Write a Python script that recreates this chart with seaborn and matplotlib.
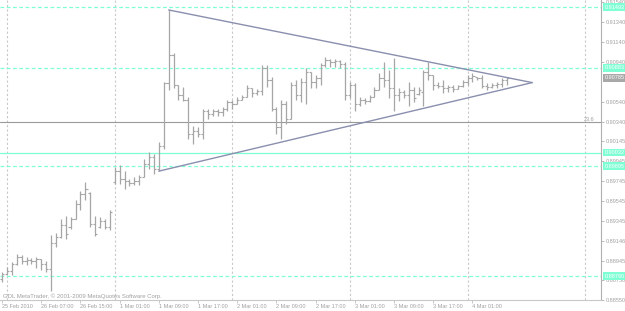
import numpy as np
import pandas as pd
import matplotlib
matplotlib.use("Agg")
import matplotlib.pyplot as plt
import seaborn as sns
from matplotlib.transforms import blended_transform_factory

sns.set_style("white")
plt.rcParams['font.family'] = ['Liberation Sans', 'DejaVu Sans']

# ---------------- data (H1 bars) ----------------
opens = [0.88765, 0.88815, 0.88845, 0.88915, 0.88985, 0.88945, 0.88955, 0.88945, 0.88965, 0.88915,
         0.88865, 0.89125, 0.89185, 0.89305, 0.89285, 0.89365, 0.89515, 0.89615, 0.89625, 0.89315,
         0.89285, 0.89345, 0.89285, 0.89735, 0.89845, 0.89765, 0.89745, 0.89725, 0.89745, 0.89785,
         0.89915, 0.89985, 0.89865, 0.90095, 0.90735, 0.91015, 0.90715, 0.90615, 0.90565, 0.90215,
         0.90245, 0.90215, 0.90445, 0.90415, 0.90445, 0.90435, 0.90465, 0.90535, 0.90515, 0.90565,
         0.90595, 0.90685, 0.90635, 0.90655, 0.90885, 0.90765, 0.90465, 0.90285, 0.90515, 0.90365,
         0.90715, 0.90615, 0.90745, 0.90845, 0.90745, 0.90785, 0.90915, 0.90965, 0.90945, 0.90955,
         0.90925, 0.90615, 0.90715, 0.90515, 0.90565, 0.90545, 0.90595, 0.90665, 0.90785, 0.90765,
         0.90685, 0.90615, 0.90645, 0.90615, 0.90665, 0.90625, 0.90645, 0.90845, 0.90815, 0.90715,
         0.90705, 0.90685, 0.90695, 0.90675, 0.90705, 0.90745, 0.90785, 0.90795, 0.90785, 0.90705,
         0.90695, 0.90715, 0.90725, 0.90765]
highs = [0.88835, 0.88885, 0.88935, 0.89015, 0.89005, 0.88985, 0.88975, 0.88985, 0.88965, 0.88945,
         0.89205, 0.89225, 0.89365, 0.89395, 0.89385, 0.89555, 0.89645, 0.89735, 0.89635, 0.89395,
         0.89385, 0.89365, 0.89455, 0.89885, 0.89905, 0.89845, 0.89765, 0.89785, 0.89805, 0.89965,
         0.90035, 0.90015, 0.90135, 0.90745, 0.91465, 0.91035, 0.90715, 0.90695, 0.90595, 0.90295,
         0.90285, 0.90465, 0.90465, 0.90465, 0.90465, 0.90485, 0.90565, 0.90565, 0.90595, 0.90615,
         0.90715, 0.90685, 0.90675, 0.90915, 0.90915, 0.90795, 0.90485, 0.90565, 0.90545, 0.90745,
         0.90765, 0.90785, 0.90885, 0.90845, 0.90815, 0.90935, 0.90995, 0.90975, 0.90975, 0.90965,
         0.90945, 0.90745, 0.90735, 0.90595, 0.90585, 0.90615, 0.90695, 0.90835, 0.90945, 0.90865,
         0.90985, 0.90685, 0.90665, 0.90745, 0.90695, 0.90695, 0.90865, 0.90945, 0.90815, 0.90745,
         0.90765, 0.90715, 0.90715, 0.90715, 0.90765, 0.90815, 0.90835, 0.90795, 0.90815, 0.90735,
         0.90735, 0.90745, 0.90785, 0.90795]
lows = [0.88735, 0.88805, 0.88805, 0.88905, 0.88915, 0.88905, 0.88915, 0.88875, 0.88855, 0.88835,
        0.88645, 0.89085, 0.89175, 0.89165, 0.89265, 0.89365, 0.89455, 0.89555, 0.89285, 0.89195,
        0.89275, 0.89265, 0.89255, 0.89715, 0.89715, 0.89665, 0.89695, 0.89705, 0.89705, 0.89785,
        0.89865, 0.89815, 0.89845, 0.90065, 0.90665, 0.90685, 0.90565, 0.90545, 0.90165, 0.90115,
        0.90185, 0.90165, 0.90365, 0.90395, 0.90395, 0.90395, 0.90445, 0.90465, 0.90515, 0.90565,
        0.90595, 0.90595, 0.90615, 0.90615, 0.90695, 0.90445, 0.90215, 0.90165, 0.90315, 0.90365,
        0.90565, 0.90535, 0.90515, 0.90685, 0.90685, 0.90715, 0.90895, 0.90895, 0.90895, 0.90885,
        0.90565, 0.90585, 0.90445, 0.90495, 0.90515, 0.90535, 0.90595, 0.90665, 0.90695, 0.90585,
        0.90445, 0.90545, 0.90585, 0.90495, 0.90535, 0.90615, 0.90495, 0.90765, 0.90665, 0.90685,
        0.90635, 0.90645, 0.90645, 0.90675, 0.90695, 0.90715, 0.90745, 0.90765, 0.90685, 0.90665,
        0.90685, 0.90685, 0.90695, 0.90715]
closes = [0.88815, 0.88845, 0.88915, 0.88985, 0.88945, 0.88955, 0.88945, 0.88965, 0.88915, 0.88865,
          0.89125, 0.89185, 0.89305, 0.89215, 0.89365, 0.89515, 0.89615, 0.89665, 0.89315, 0.89215,
          0.89345, 0.89285, 0.89435, 0.89845, 0.89765, 0.89745, 0.89725, 0.89745, 0.89785, 0.89915,
          0.89985, 0.89865, 0.90095, 0.90735, 0.91015, 0.90715, 0.90615, 0.90565, 0.90215, 0.90245,
          0.90215, 0.90445, 0.90415, 0.90445, 0.90435, 0.90465, 0.90535, 0.90515, 0.90565, 0.90595,
          0.90685, 0.90635, 0.90655, 0.90885, 0.90765, 0.90465, 0.90285, 0.90515, 0.90365, 0.90715,
          0.90615, 0.90745, 0.90845, 0.90745, 0.90785, 0.90915, 0.90965, 0.90945, 0.90955, 0.90925,
          0.90615, 0.90715, 0.90515, 0.90565, 0.90545, 0.90595, 0.90665, 0.90785, 0.90765, 0.90685,
          0.90615, 0.90645, 0.90615, 0.90665, 0.90585, 0.90665, 0.90845, 0.90815, 0.90715, 0.90705,
          0.90685, 0.90695, 0.90675, 0.90705, 0.90745, 0.90785, 0.90805, 0.90785, 0.90705, 0.90695,
          0.90715, 0.90725, 0.90765, 0.90785]

# hourly bar times (Friday session, then the new week)
bar_times = list(pd.date_range("2010-02-25 23:00", "2010-02-26 21:00", freq="h")) + \
            list(pd.date_range("2010-03-01 00:00", periods=81, freq="h"))

price_ticks = [0.91540, 0.91340, 0.91140, 0.90940, 0.90540, 0.90340, 0.90145,
               0.89945, 0.89745, 0.89545, 0.89345, 0.89146, 0.88945, 0.88750, 0.88550]
level_dashed = [0.91493, 0.90883, 0.89895, 0.88790]
level_solid = [0.90032]
fib_level = 0.90340
fib_label = "23.6"
bid_price = 0.90785

# converging trend lines: (bar index, price) -> apex
upper_bars = [34, 108.2]
upper_prices = [0.91465, 0.90735]
lower_bars = [32, 108.2]
lower_prices = [0.89845, 0.90735]

copyright_text = "GDL MetaTrader, © 2001-2009 MetaQuotes Software Corp."

# ---------------- styles ----------------
BAR_C = "#a6a6a6"
CYAN = "#7fffd4"
GRID_C = "#c8c8c8"
TXT_C = "#a0a0a0"
TRI_C = "#8a8fae"
FS = 4.0

n = len(opens)
idx = np.arange(n)

fig = plt.figure(figsize=(6.25, 3.11), dpi=100)
ax = fig.add_axes([0, 11 / 311, 601 / 625, 300 / 311])
ax.set_facecolor("white")
ax.set_xlim(-0.41, 122.24)
ax.set_ylim(0.88565, 0.91565)

# day separators
sep_bars = [i for i, t in enumerate(bar_times) if t.hour == 0]
sep_bars.append(sep_bars[-1] + 24)
for b in sep_bars:
    ax.axvline(b, color=GRID_C, lw=0.8, ls=(0, (2, 2)), zorder=1)

# horizontal levels
for lv in level_dashed:
    ax.axhline(lv, color=CYAN, lw=0.9, ls=(0, (3, 2)), zorder=1)
for lv in level_solid:
    ax.axhline(lv, color=CYAN, lw=0.9, zorder=1)
ax.axhline(fib_level, color="#9a9a9a", lw=0.8, zorder=1)
ax.text(584 / 601, fib_level, fib_label, transform=blended_transform_factory(ax.transAxes, ax.transData),
        fontsize=FS, color=TXT_C, ha="left", va="bottom")

# OHLC bars
ax.vlines(idx, lows, highs, color=BAR_C, lw=0.9, zorder=2)
ax.hlines(opens, idx - 0.45, idx, color=BAR_C, lw=0.8, zorder=2)
ax.hlines(closes, idx, idx + 0.45, color=BAR_C, lw=0.8, zorder=2)

# trend lines via seaborn
line_df = pd.DataFrame({
    "bar": upper_bars + lower_bars,
    "price": upper_prices + lower_prices,
    "line": ["upper"] * len(upper_bars) + ["lower"] * len(lower_bars),
})
sns.lineplot(data=line_df, x="bar", y="price", units="line", sort=False, estimator=None,
             color=TRI_C, lw=1.0, ax=ax, zorder=3)

# axes styling
for s in ["top", "left"]:
    ax.spines[s].set_visible(False)
ax.spines["right"].set_color("#b0b0b0")
ax.spines["bottom"].set_color("#c8c8c8")
ax.spines["right"].set_linewidth(0.8)
ax.spines["bottom"].set_linewidth(0.8)
ax.set_xlabel("")
ax.set_ylabel("")

ax.yaxis.tick_right()
ax.set_yticks(price_ticks)
ax.set_yticklabels([f"{p:.5f}" for p in price_ticks])
ax.tick_params(axis="y", which="both", right=True, length=2, width=0.6, color="#b0b0b0",
               labelsize=FS, labelcolor=TXT_C, pad=1.5)

tick_bars = list(range(0, n, 8))
tick_labels = []
for k, b in enumerate(tick_bars):
    t = bar_times[b]
    tick_labels.append(t.strftime("%-d %b %Y") if k == 0 else t.strftime("%-d %b %H:%M"))
ax.set_xticks(tick_bars)
ax.set_xticklabels(tick_labels, ha="left")
ax.tick_params(axis="x", which="both", bottom=True, length=2, width=0.6, color="#c0c0c0",
               labelsize=FS, labelcolor=TXT_C, pad=1.0)

# label boxes on the price scale
btr = blended_transform_factory(ax.transAxes, ax.transData)
for lv in level_dashed + level_solid:
    ax.text(1.006, lv, f"{lv:.5f}", transform=btr, fontsize=FS, color="white",
            ha="left", va="center", zorder=5, clip_on=False,
            bbox=dict(boxstyle="square,pad=0.25", fc=CYAN, ec="none"))
ax.text(1.006, bid_price, f"{bid_price:.5f}", transform=btr, fontsize=FS, color="white",
        ha="left", va="center", zorder=5, clip_on=False,
        bbox=dict(boxstyle="square,pad=0.25", fc="#a8a8a8", ec="none"))

ax.text(3 / 601, 4 / 300, copyright_text, transform=ax.transAxes, fontsize=4.3,
        color=TXT_C, ha="left", va="center")

fig.savefig("out.png", dpi=100)
